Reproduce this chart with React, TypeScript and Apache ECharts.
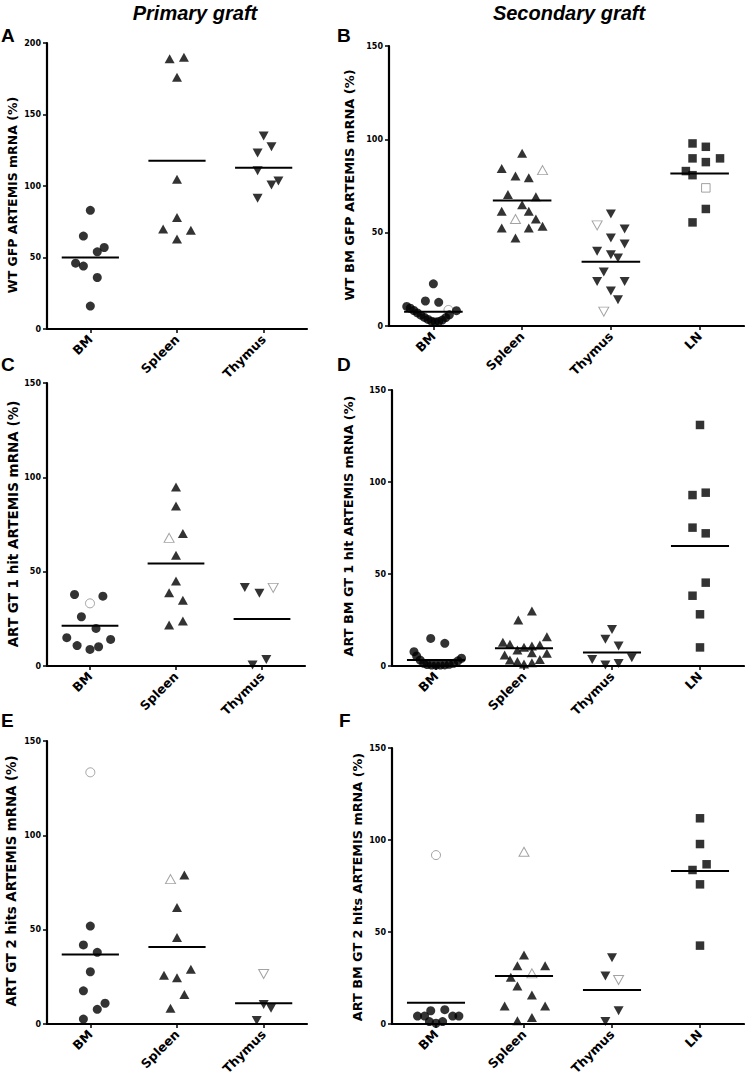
import React, { useEffect, useRef } from 'react';
import * as echarts from 'echarts';

// ---------- categories & titles ----------
const catsPrimary = ['BM', 'Spleen', 'Thymus'];
const catsSecondary = ['BM', 'Spleen', 'Thymus', 'LN'];
const columnTitles = ['Primary graft', 'Secondary graft'];
const panelLetters = ['A', 'B', 'C', 'D', 'E', 'F'];
const yNames = [
  'WT GFP ARTEMIS mRNA (%)',
  'WT BM GFP ARTEMIS mRNA (%)',
  'ART GT 1 hit ARTEMIS mRNA (%)',
  'ART BM GT 1 hit ARTEMIS mRNA (%)',
  'ART GT 2 hits ARTEMIS mRNA (%)',
  'ART BM GT 2 hits ARTEMIS mRNA (%)',
];
const yMaxs = [200, 150, 150, 150, 150, 150];
const yStep = 50;

// ---------- data: [horizontal jitter (fraction of category), value %] ----------
// Panel A
const aBM = [[0, 83], [-0.08, 65], [0.16, 57], [0.08, 54], [-0.17, 46], [-0.08, 44], [0.08, 36], [0, 16]];
const aSpleen = [[-0.085, 189], [0.08, 190], [0, 176], [0, 104.7], [0, 78], [-0.16, 70], [0.16, 69], [0, 63]];
const aThymus = [[0, 135], [0.09, 127.5], [-0.07, 123], [-0.07, 110.6], [0.17, 103.5], [0.09, 100.7], [-0.07, 91.4]];
const aMeans = [50, 117.7, 112.8];

// Panel B
const bBM = [[0, 22.6], [-0.09, 13.4], [0.06, 12.7], [0.26, 8.2],
  [-0.3, 10.5], [-0.26, 9.5], [-0.22, 8.3], [-0.18, 7], [-0.14, 5.8], [-0.1, 4.6], [-0.06, 3.5],
  [-0.02, 2.6], [0.02, 2.2], [0.06, 2.4], [0.1, 3.2], [0.14, 4.5], [0.18, 6]];
const bBMOpen = [[0.17, 8.6]];
const bSpleen = [[0, 92.5], [-0.23, 84.4], [-0.075, 80.3], [0.075, 79.4], [-0.16, 70.4], [0.155, 69.2], [0, 65],
  [-0.23, 61.5], [0.075, 61.5], [0.155, 57.3], [-0.23, 52.5], [0.075, 52.5], [0.23, 53.4], [-0.075, 47.1]];
const bSpleenOpen = [[0.23, 83.5], [-0.075, 57.3]];
const bThymus = [[0, 60], [0.155, 52], [0, 47.2], [0.155, 43.9], [-0.155, 40], [0, 38.2], [0.08, 36.4],
  [-0.08, 28.9], [-0.155, 23.8], [0.155, 23.8], [0, 18.8], [0.08, 14]];
const bThymusOpen = [[-0.155, 53.9], [-0.08, 7.7]];
const bLN = [[-0.08, 97.8], [0.07, 96], [-0.08, 89.8], [0.23, 89.8], [0.07, 87.8], [-0.155, 83], [-0.08, 80.8],
  [0.07, 62.7], [-0.08, 55.5]];
const bLNOpen = [[0.07, 74]];
const bMeans = [7.7, 67.2, 34.4, 81.7];

// Panel C
const cBM = [[-0.18, 37.9], [0.15, 37], [-0.1, 26.1], [0.07, 19.9], [-0.27, 15], [0.24, 14.1], [-0.15, 10.8], [0.1, 10.2], [0, 8.8]];
const cBMOpen = [[0, 33.2]];
const cSpleen = [[0, 94.9], [0, 84.8], [0.08, 70.2], [0, 58.7], [0, 45], [-0.08, 38.8], [0.08, 34.9], [0.08, 23.8], [-0.08, 21.7]];
const cSpleenOpen = [[-0.08, 67.9]];
const cThymus = [[-0.2, 41.6], [-0.03, 38.5], [-0.11, 0.5], [0.05, 3.5]];
const cThymusOpen = [[0.13, 41.4]];
const cMeans = [21.3, 54.3, 24.9];

// Panel D
const dBM = [[-0.06, 15], [0.1, 12.3],
  [-0.25, 7.8], [-0.22, 5.5], [-0.18, 3.2], [-0.14, 1.5], [-0.1, 0.8], [-0.05, 0.5], [0, 0.5], [0.05, 0.5],
  [0.1, 0.6], [0.15, 0.9], [0.2, 1.5], [0.25, 2.8], [0.29, 4.2]];
const dSpleen = [[0.09, 29.9], [-0.065, 25], [0.26, 15.9], [-0.24, 12.9], [-0.16, 11.8], [0.18, 11.4], [0.09, 10.9],
  [0, 10.2], [-0.075, 8.7], [-0.22, 6], [0.09, 7.2], [0.26, 6.9], [-0.16, 3.3], [0.18, 3.6], [-0.075, 2.4], [0, 1.1], [0.09, 1.8]];
const dThymus = [[0, 19.9], [-0.075, 14.5], [0.075, 10.9], [-0.225, 3.6], [0.225, 4.5], [-0.075, 0.5], [0.075, 1.4]];
const dLN = [[0, 131], [-0.085, 92.9], [0.065, 94.2], [-0.085, 75.2], [0.065, 72.1], [0.065, 45.3], [-0.085, 38.2], [0, 28.1], [0, 10.1]];
const dMeans = [3.3, 9.6, 7.4, 65.2];

// Panel E
const eBM = [[0, 51.9], [-0.08, 41.9], [0.08, 38], [0, 27.7], [-0.08, 17.6], [0.17, 11], [0.08, 7.8], [-0.08, 2.6]];
const eBMOpen = [[0, 133.4]];
const eSpleen = [[0.085, 79], [0, 61.8], [0, 45.9], [0.16, 29], [-0.15, 25.8], [0, 24.5], [0.085, 15.7], [-0.075, 8.3]];
const eSpleenOpen = [[-0.075, 76.8]];
const eThymus = [[0, 10.4], [0.085, 8.3], [-0.08, 1.8]];
const eThymusOpen = [[0, 26.5]];
const eMeans = [36.9, 40.8, 11];

// Panel F
const fBM = [[-0.21, 4.3], [-0.13, 4.3], [-0.06, 7.2], [0.1, 7.8], [0.19, 4.3], [0.26, 4.3], [-0.075, 1.3], [0, 0.4], [0.075, 1.3]];
const fBMOpen = [[0, 91.8]];
const fSpleen = [[0, 37.5], [-0.075, 31.7], [0.24, 31.7], [-0.15, 25.4], [-0.075, 20.7], [0.09, 15.8], [-0.22, 9.8], [0.24, 9.8], [0.09, 3.6], [-0.075, 1.8]];
const fSpleenOpen = [[0, 93.6], [0.09, 27.5]];
const fThymus = [[0, 36], [-0.075, 26.1], [0.075, 7.2], [-0.075, 1.3]];
const fThymusOpen = [[0.075, 23.9]];
const fLN = [[0, 111.8], [0, 97.8], [0.075, 86.8], [-0.085, 83.7], [0, 75.9], [0, 42.6]];
const fMeans = [11.6, 26.1, 18.5, 83.2];

type Pt = number[];
interface Group { filled: Pt[]; open: Pt[] }
interface Panel { cats: string[]; groups: Group[]; means: number[] }

const panels: Panel[] = [
  { cats: catsPrimary, means: aMeans, groups: [{ filled: aBM, open: [] }, { filled: aSpleen, open: [] }, { filled: aThymus, open: [] }] },
  { cats: catsSecondary, means: bMeans, groups: [{ filled: bBM, open: bBMOpen }, { filled: bSpleen, open: bSpleenOpen }, { filled: bThymus, open: bThymusOpen }, { filled: bLN, open: bLNOpen }] },
  { cats: catsPrimary, means: cMeans, groups: [{ filled: cBM, open: cBMOpen }, { filled: cSpleen, open: cSpleenOpen }, { filled: cThymus, open: cThymusOpen }] },
  { cats: catsSecondary, means: dMeans, groups: [{ filled: dBM, open: [] }, { filled: dSpleen, open: [] }, { filled: dThymus, open: [] }, { filled: dLN, open: [] }] },
  { cats: catsPrimary, means: eMeans, groups: [{ filled: eBM, open: eBMOpen }, { filled: eSpleen, open: eSpleenOpen }, { filled: eThymus, open: eThymusOpen }] },
  { cats: catsSecondary, means: fMeans, groups: [{ filled: fBM, open: fBMOpen }, { filled: fSpleen, open: fSpleenOpen }, { filled: fThymus, open: fThymusOpen }, { filled: fLN, open: [] }] },
];

// ---------- layout & style ----------
const grids = [
  { left: 47, top: 43, width: 260, height: 286 },
  { left: 389, top: 46, width: 355, height: 280 },
  { left: 47, top: 383, width: 258, height: 283 },
  { left: 392, top: 390, width: 352, height: 276 },
  { left: 47, top: 741, width: 260, height: 283 },
  { left: 392, top: 748, width: 352, height: 276 },
];
const letterPos = [[1, 35], [337, 35], [1, 364], [337, 364], [1, 720], [339, 720]];
const yNamePos = [[12.5, 195, 12.5], [349.5, 185, 13], [12.5, 524, 13.5], [348, 526, 12.8], [11.5, 881, 13.3], [357, 887, 12.8]];
const titlePos = [[195, 13], [569, 13]];

const symbolFor: Record<string, { symbol: string; rotate: number; size: number | number[] }> = {
  BM: { symbol: 'circle', rotate: 0, size: 9 },
  Spleen: { symbol: 'triangle', rotate: 0, size: [10, 9] },
  Thymus: { symbol: 'triangle', rotate: 180, size: [10, 9] },
  LN: { symbol: 'rect', rotate: 0, size: 8.5 },
};

const FONT = 'DejaVu Sans';
const FONT_TITLE = 'Liberation Sans';

function buildOption() {
  const grid: any[] = [];
  const xAxis: any[] = [];
  const yAxis: any[] = [];
  const series: any[] = [];
  const graphic: any[] = [];

  panels.forEach((p, i) => {
    const gr = grids[i];
    grid.push({ ...gr, outerBoundsMode: 'none', containLabel: false });
    xAxis.push({
      type: 'category', gridIndex: i, data: p.cats, boundaryGap: true, position: 'bottom',
      axisLine: { show: true, onZero: false, lineStyle: { color: '#000', width: 2.2 } },
      axisTick: { show: true, alignWithLabel: true, length: 4, lineStyle: { color: '#000', width: 1.5 } },
      axisLabel: { show: true, interval: 0, rotate: 45, margin: 8, color: '#000', fontSize: 12.5, fontWeight: 'bold', fontFamily: FONT },
      splitLine: { show: false },
    });
    xAxis.push({ type: 'value', gridIndex: i, min: -0.5, max: p.cats.length - 0.5, show: false });
    yAxis.push({
      type: 'value', gridIndex: i, min: 0, max: yMaxs[i], interval: yStep, position: 'left',
      axisLine: { show: true, onZero: false, lineStyle: { color: '#000', width: 2.2 } },
      axisTick: { show: true, length: 4, lineStyle: { color: '#000', width: 1.5 } },
      axisLabel: { color: '#000', fontSize: 8, fontWeight: 'bold', fontFamily: FONT, margin: 6 },
      splitLine: { show: false },
    });
    const xi = 2 * i + 1;
    p.groups.forEach((g, ci) => {
      const s = symbolFor[p.cats[ci]];
      series.push({
        type: 'scatter', xAxisIndex: xi, yAxisIndex: i, clip: false, z: 2,
        symbol: s.symbol, symbolRotate: s.rotate, symbolSize: s.size,
        itemStyle: { color: 'rgba(255,255,255,0)', borderColor: '#8c8c8c', borderWidth: 1 },
        data: g.open.map(([dx, v]) => [ci + dx, v]),
      });
      series.push({
        type: 'scatter', xAxisIndex: xi, yAxisIndex: i, clip: false, z: 3,
        symbol: s.symbol, symbolRotate: s.rotate, symbolSize: s.size,
        itemStyle: { color: '#000' },
        data: g.filled.map(([dx, v]) => [ci + dx, v]),
      });
    });
    series.push({
      type: 'custom', xAxisIndex: xi, yAxisIndex: i, z: 4, clip: false,
      data: p.means.map((m, ci) => [ci, m]),
      renderItem: (_params: any, api: any) => {
        const c = api.coord([api.value(0), api.value(1)]);
        const w = api.size([1, 0])[0] * 0.66;
        return {
          type: 'line',
          shape: { x1: c[0] - w / 2, y1: c[1], x2: c[0] + w / 2, y2: c[1] },
          style: { stroke: '#000', lineWidth: 2 },
        };
      },
    });

    graphic.push({
      type: 'text', x: letterPos[i][0], y: letterPos[i][1],
      style: { text: panelLetters[i], fill: '#000', fontSize: 19, fontWeight: 'bold', fontFamily: FONT_TITLE, align: 'left', verticalAlign: 'middle' },
    });
    graphic.push({
      type: 'text', x: yNamePos[i][0], y: yNamePos[i][1], rotation: Math.PI / 2,
      style: { text: yNames[i], fill: '#000', fontSize: yNamePos[i][2], fontWeight: 'bold', fontFamily: FONT, align: 'center', verticalAlign: 'middle' },
    });
  });

  columnTitles.forEach((t, k) => {
    graphic.push({
      type: 'text', x: titlePos[k][0], y: titlePos[k][1],
      style: { text: t, fill: '#000', fontSize: 20, fontWeight: 'bold', fontStyle: 'italic', fontFamily: FONT_TITLE, align: 'center', verticalAlign: 'middle' },
    });
  });

  return { animation: false, backgroundColor: '#fff', grid, xAxis, yAxis, series, graphic };
}

export default function App() {
  const ref = useRef<HTMLDivElement>(null);
  useEffect(() => {
    if (!ref.current) return;
    const chart = echarts.init(ref.current, undefined, { renderer: 'svg' });
    chart.setOption(buildOption() as any);
    return () => chart.dispose();
  }, []);
  return <div ref={ref} style={{ position: 'absolute', left: 0, top: 0, width: 745, height: 1090 }} />;
}
